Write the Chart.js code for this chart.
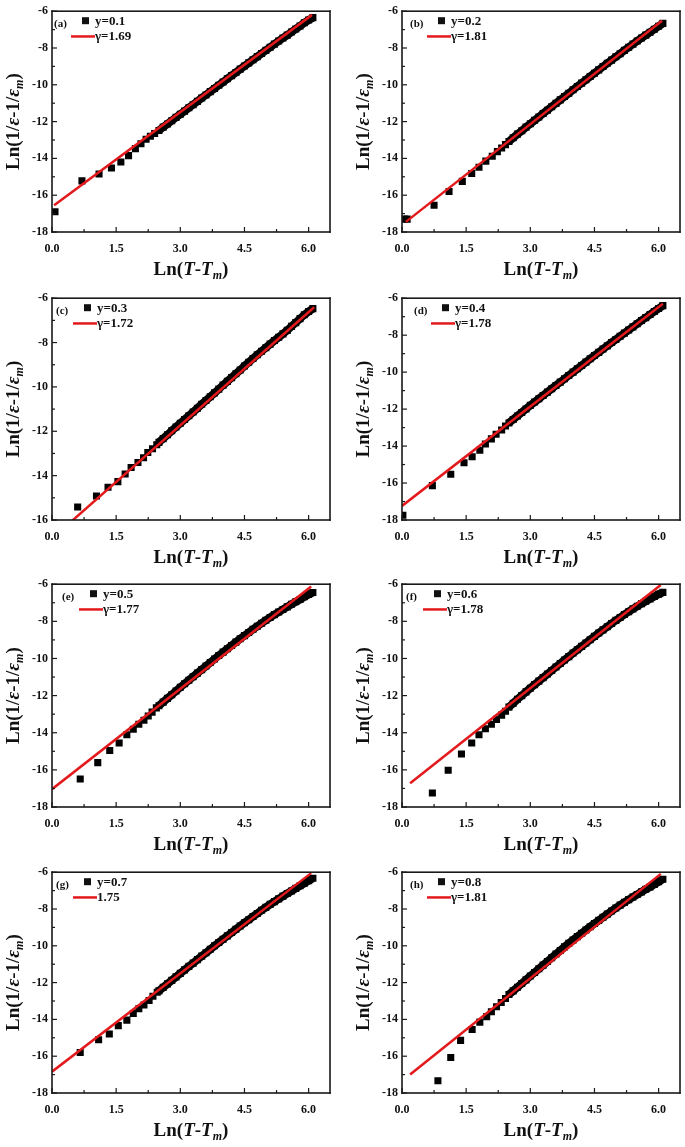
<!DOCTYPE html>
<html>
<head>
<meta charset="utf-8">
<script src="https://cdn.jsdelivr.net/npm/chart.js@4.4.0/dist/chart.umd.min.js"></script>
<style>
  body { margin: 0; background: #fff; }
  #wrap { position: relative; width: 685px; height: 1147px; overflow: hidden; }
  #wrap canvas { position: absolute; }
</style>
</head>
<body>
<div id="wrap"></div>
<script>
// dense part of every curve, shared x = Ln(T-Tm)
var tailX = [2.5, 2.6, 2.7, 2.8, 2.9, 3.0, 3.1, 3.2, 3.3, 3.4, 3.5, 3.6, 3.7, 3.8, 3.9,
  4.0, 4.1, 4.2, 4.3, 4.4, 4.5, 4.6, 4.7, 4.8, 4.9, 5.0, 5.1, 5.2, 5.3, 5.4, 5.5,
  5.6, 5.7, 5.8, 5.9, 6.0, 6.1];

// (a) y=0.1
var headXa = [0.07, 0.70, 1.10, 1.39, 1.61, 1.79, 1.95, 2.08, 2.20, 2.30, 2.40];
var headYa = [-16.9, -15.22, -14.85, -14.52, -14.2, -13.85, -13.47, -13.2, -12.96, -12.8, -12.65];
var tailYa = [-12.48, -12.3, -12.13, -11.95, -11.77, -11.6, -11.43, -11.25, -11.08, -10.9,
  -10.72, -10.55, -10.37, -10.2, -10.02, -9.85, -9.67, -9.5, -9.33, -9.15, -8.98, -8.81,
  -8.64, -8.47, -8.3, -8.13, -7.96, -7.79, -7.62, -7.46, -7.3, -7.13, -6.97, -6.8, -6.63,
  -6.48, -6.35];
var fitXa = [0.05, 6.08], fitYa = [-16.54, -6.2];

// (b) y=0.2
var headXb = [0.05, 0.12, 0.75, 1.10, 1.41, 1.63, 1.80, 1.96, 2.11, 2.23, 2.33, 2.42];
var headYb = [-17.3, -17.3, -16.55, -15.8, -15.25, -14.82, -14.48, -14.15, -13.88, -13.63, -13.43, -13.25];
var tailYb = [-13.08, -12.88, -12.68, -12.5, -12.3, -12.12, -11.93, -11.75, -11.56, -11.38,
  -11.19, -11.01, -10.82, -10.64, -10.46, -10.27, -10.09, -9.91, -9.73, -9.55, -9.37, -9.19,
  -9.01, -8.83, -8.66, -8.48, -8.31, -8.13, -7.96, -7.79, -7.62, -7.46, -7.3, -7.14, -6.98,
  -6.82, -6.66];
var fitXb = [0.09, 6.08], fitYb = [-17.45, -6.52];

// (c) y=0.3
var headXc = [0.60, 1.04, 1.31, 1.54, 1.71, 1.85, 2.01, 2.14, 2.24, 2.35, 2.45];
var headYc = [-15.41, -14.92, -14.52, -14.27, -13.93, -13.63, -13.41, -13.19, -12.96, -12.79, -12.61];
var tailYc = [-12.5, -12.33, -12.16, -11.98, -11.81, -11.64, -11.47, -11.3, -11.13, -10.96,
  -10.78, -10.61, -10.44, -10.27, -10.1, -9.92, -9.75, -9.58, -9.41, -9.24, -9.06, -8.89,
  -8.72, -8.55, -8.39, -8.23, -8.07, -7.91, -7.76, -7.61, -7.45, -7.27, -7.1, -6.92, -6.75,
  -6.6, -6.47];
var fitXc = [0.45, 6.13], fitYc = [-16.07, -6.41];

// (d) y=0.4
var headXd = [0.02, 0.71, 1.14, 1.45, 1.64, 1.82, 1.95, 2.09, 2.20, 2.33, 2.42];
var headYd = [-17.74, -16.14, -15.52, -14.9, -14.58, -14.23, -13.89, -13.61, -13.36, -13.13, -12.91];
var tailYd = [-12.75, -12.56, -12.37, -12.18, -11.99, -11.8, -11.62, -11.44, -11.26, -11.08,
  -10.9, -10.72, -10.54, -10.36, -10.18, -10.0, -9.82, -9.64, -9.46, -9.28, -9.1, -8.93,
  -8.75, -8.58, -8.4, -8.23, -8.06, -7.89, -7.72, -7.55, -7.38, -7.21, -7.05, -6.88, -6.72,
  -6.56, -6.4];
var fitXd = [0.0, 6.1], fitYd = [-17.24, -6.3];

// (e) y=0.5
var headXe = [0.66, 1.07, 1.35, 1.57, 1.75, 1.90, 2.03, 2.15, 2.25, 2.34, 2.44];
var headYe = [-16.49, -15.61, -14.96, -14.55, -14.11, -13.81, -13.54, -13.33, -13.1, -12.89, -12.66];
var tailYe = [-12.55, -12.35, -12.15, -11.95, -11.75, -11.55, -11.36, -11.17, -10.98, -10.79,
  -10.6, -10.41, -10.22, -10.03, -9.84, -9.66, -9.48, -9.3, -9.12, -8.94, -8.77, -8.6,
  -8.43, -8.26, -8.1, -7.94, -7.79, -7.64, -7.5, -7.36, -7.22, -7.08, -6.95, -6.82, -6.68,
  -6.55, -6.45];
var fitXe = [0.0, 6.06], fitYe = [-17.04, -6.12];

// (f) y=0.6
var headXf = [0.71, 1.08, 1.39, 1.63, 1.80, 1.95, 2.09, 2.21, 2.33, 2.42];
var headYf = [-17.25, -16.02, -15.15, -14.55, -14.11, -13.79, -13.54, -13.28, -13.05, -12.84];
var tailYf = [-12.62, -12.41, -12.2, -12.0, -11.8, -11.6, -11.41, -11.22, -11.03, -10.84,
  -10.65, -10.46, -10.27, -10.08, -9.9, -9.71, -9.53, -9.35, -9.17, -8.99, -8.81, -8.63,
  -8.46, -8.29, -8.12, -7.95, -7.79, -7.63, -7.48, -7.33, -7.19, -7.05, -6.92, -6.79, -6.66,
  -6.54, -6.44];
var fitXf = [0.19, 6.05], fitYf = [-16.72, -6.04];

// (g) y=0.7
var headXg = [0.66, 1.09, 1.34, 1.55, 1.75, 1.90, 2.03, 2.15, 2.27, 2.36, 2.46];
var headYg = [-15.8, -15.11, -14.79, -14.34, -14.04, -13.68, -13.42, -13.22, -12.97, -12.74, -12.52];
var tailYg = [-12.45, -12.26, -12.07, -11.88, -11.69, -11.5, -11.31, -11.12, -10.94, -10.75,
  -10.56, -10.38, -10.19, -10.0, -9.82, -9.64, -9.46, -9.28, -9.1, -8.92, -8.75, -8.58,
  -8.41, -8.24, -8.07, -7.91, -7.75, -7.6, -7.45, -7.3, -7.16, -7.02, -6.88, -6.74, -6.6,
  -6.46, -6.33];
var fitXg = [0.0, 6.06], fitYg = [-16.84, -6.05];

// (h) y=0.8
var headXh = [0.84, 1.14, 1.37, 1.64, 1.82, 1.98, 2.09, 2.21, 2.32, 2.42];
var headYh = [-17.33, -16.07, -15.14, -14.55, -14.15, -13.85, -13.58, -13.31, -13.08, -12.86];
var tailYh = [-12.65, -12.45, -12.25, -12.05, -11.85, -11.64, -11.45, -11.25, -11.05, -10.85,
  -10.65, -10.45, -10.26, -10.06, -9.87, -9.68, -9.5, -9.32, -9.14, -8.96, -8.79, -8.62,
  -8.45, -8.28, -8.11, -7.95, -7.79, -7.64, -7.49, -7.35, -7.21, -7.07, -6.93, -6.8, -6.66,
  -6.52, -6.38];
var fitXh = [0.19, 6.05], fitYh = [-16.99, -6.09];

var panelTags = ['(a)', '(b)', '(c)', '(d)', '(e)', '(f)', '(g)', '(h)'];
var compLabels = ['y=0.1', 'y=0.2', 'y=0.3', 'y=0.4', 'y=0.5', 'y=0.6', 'y=0.7', 'y=0.8'];
var gammaLabels = ['γ=1.69', 'γ=1.81', 'γ=1.72', 'γ=1.78', 'γ=1.77', 'γ=1.78', '1.75', 'γ=1.81'];
var yMins = [-18, -18, -16, -18, -18, -18, -18, -18];

var headX = [headXa, headXb, headXc, headXd, headXe, headXf, headXg, headXh];
var headY = [headYa, headYb, headYc, headYd, headYe, headYf, headYg, headYh];
var tailY = [tailYa, tailYb, tailYc, tailYd, tailYe, tailYf, tailYg, tailYh];
var fitX = [fitXa, fitXb, fitXc, fitXd, fitXe, fitXf, fitXg, fitXh];
var fitY = [fitYa, fitYb, fitYc, fitYd, fitYe, fitYf, fitYg, fitYh];

// page layout
var colLeft = [0, 342], colWidth = [342, 343];
var plotLeft = [52, 60], rightPad = [12, 4];
var rowTop = [0, 287, 573, 861], rowH = 286, plotTop = 8;
var plotH = [224, 225, 226, 224];
var legendShift = [-2, 4, 0, 8, 6, 0, 0, 4];

var RED = '#e3191c';
var INK = '#111';
var FAMILY = '"Liberation Serif", "Times New Roman", serif';

function fontFor(p, size) {
  var s = p.sub ? Math.round(size * 0.62) : size;
  return (p.it ? 'italic ' : '') + 'bold ' + s + 'px ' + FAMILY;
}

function drawRich(ctx, parts, size) {
  var total = 0;
  parts.forEach(function (p) {
    ctx.font = fontFor(p, size);
    p.w = ctx.measureText(p.t).width;
    total += p.w;
  });
  var x = -total / 2;
  parts.forEach(function (p) {
    ctx.font = fontFor(p, size);
    ctx.fillText(p.t, x, p.sub ? size * 0.3 : 0);
    x += p.w;
  });
}

var xTitle = [{ t: 'Ln(' }, { t: 'T', it: true }, { t: '-' }, { t: 'T', it: true },
  { t: 'm', it: true, sub: true }, { t: ')' }];
var yTitle = [{ t: 'Ln(1/' }, { t: 'ε', it: true }, { t: '-1/' }, { t: 'ε', it: true },
  { t: 'm', it: true, sub: true }, { t: ')' }];

// box, inward ticks, in-plot legend and axis titles
var panelPlugin = {
  id: 'panelText',
  afterDraw: function (chart, args, opts) {
    var ctx = chart.ctx, a = chart.chartArea;
    var xs = chart.scales.x, ys = chart.scales.y;
    var lw = 1.6, h = lw / 2;
    ctx.save();
    ctx.fillStyle = '#1a1a1a';
    ctx.fillRect(a.left - h, a.top - h, a.right - a.left + lw, lw);
    ctx.fillRect(a.left - h, a.bottom - h, a.right - a.left + lw, lw);
    ctx.fillRect(a.left - h, a.top - h, lw, a.bottom - a.top + lw);
    ctx.fillRect(a.right - h, a.top - h, lw, a.bottom - a.top + lw);
    var k, v, p, len;
    for (k = 0; k * 0.75 <= xs.max + 1e-9; k++) {
      p = xs.getPixelForValue(k * 0.75);
      len = k % 2 === 0 ? 5 : 3;
      ctx.fillRect(p - 0.6, a.bottom - len, 1.2, len);
    }
    for (v = ys.min; v <= ys.max + 1e-9; v += 1) {
      p = ys.getPixelForValue(v);
      len = Math.abs(v) % 2 === 0 ? 5 : 3;
      ctx.fillRect(a.left, p - 0.6, len, 1.2);
    }

    var fit = chart.data.datasets[0], pts = chart.data.datasets[1];
    var lx = a.left + opts.shift, ty = a.top;
    ctx.fillStyle = INK;
    ctx.textBaseline = 'middle';
    ctx.textAlign = 'left';
    ctx.font = 'bold 11px ' + FAMILY;
    ctx.fillText(opts.tag, lx + 4, ty + 13);
    ctx.fillRect(lx + 32, ty + 6, 7, 7);
    ctx.font = 'bold 13px ' + FAMILY;
    ctx.fillText(pts.label, lx + 45, ty + 10);
    ctx.fillStyle = RED;
    ctx.fillRect(lx + 21, ty + 24, 24, 2.5);
    ctx.fillStyle = INK;
    ctx.fillText(fit.label, lx + 45, ty + 25);

    ctx.save();
    ctx.translate((a.left + a.right) / 2, a.bottom + 38);
    drawRich(ctx, xTitle, 19);
    ctx.restore();
    ctx.save();
    ctx.translate(a.left - 38, (a.top + a.bottom) / 2);
    ctx.rotate(-Math.PI / 2);
    drawRich(ctx, yTitle, 19);
    ctx.restore();
    ctx.restore();
  }
};

var wrap = document.getElementById('wrap');

for (var i = 0; i < 8; i++) {
  var col = i % 2, row = Math.floor(i / 2);
  var cv = document.createElement('canvas');
  cv.width = colWidth[col];
  cv.height = rowH;
  cv.style.left = colLeft[col] + 'px';
  cv.style.top = rowTop[row] + 'px';
  wrap.appendChild(cv);

  var band = tailX.map(function (x, k) { return { x: x, y: tailY[i][k] }; });
  var points = headX[i].map(function (x, k) { return { x: x, y: headY[i][k] }; }).concat(band);
  var line = fitX[i].map(function (x, k) { return { x: x, y: fitY[i][k] }; });

  (function (yAxisW, xAxisH) {
    new Chart(cv, {
      type: 'scatter',
      data: {
        datasets: [
          { label: gammaLabels[i], data: line, showLine: true, borderColor: RED, borderWidth: 2.5,
            pointRadius: 0, order: 0, clip: 0 },
          { label: compLabels[i], data: points, showLine: false, pointStyle: 'rect', pointRadius: 5,
            pointBackgroundColor: '#000', pointBorderWidth: 0, order: 1, clip: 0 },
          { label: 'band', data: band, showLine: true, borderColor: '#000', borderWidth: 8,
            pointRadius: 0, order: 2, clip: 0 }
        ]
      },
      options: {
        responsive: false,
        animation: false,
        devicePixelRatio: 1,
        layout: { padding: { left: 0, top: plotTop, right: rightPad[col], bottom: 0 } },
        scales: {
          x: {
            type: 'linear', min: 0, max: 6.5,
            grid: { display: false, drawTicks: false }, border: { display: false },
            ticks: { stepSize: 1.5, includeBounds: false, padding: 10, color: INK,
              font: { family: FAMILY, weight: 'bold', size: 12 },
              callback: function (v) { return v.toFixed(1); } },
            afterFit: function (s) { s.height = xAxisH; }
          },
          y: {
            type: 'linear', min: yMins[i], max: -6,
            grid: { display: false, drawTicks: false }, border: { display: false },
            ticks: { stepSize: 2, padding: 4, color: INK,
              font: { family: FAMILY, weight: 'bold', size: 12 } },
            afterFit: function (s) { s.width = yAxisW; }
          }
        },
        plugins: {
          legend: { display: false },
          tooltip: { enabled: false },
          panelText: { tag: panelTags[i], shift: legendShift[i] }
        }
      },
      plugins: [panelPlugin]
    });
  })(plotLeft[col], rowH - plotTop - plotH[row]);
}
</script>
</body>
</html>
